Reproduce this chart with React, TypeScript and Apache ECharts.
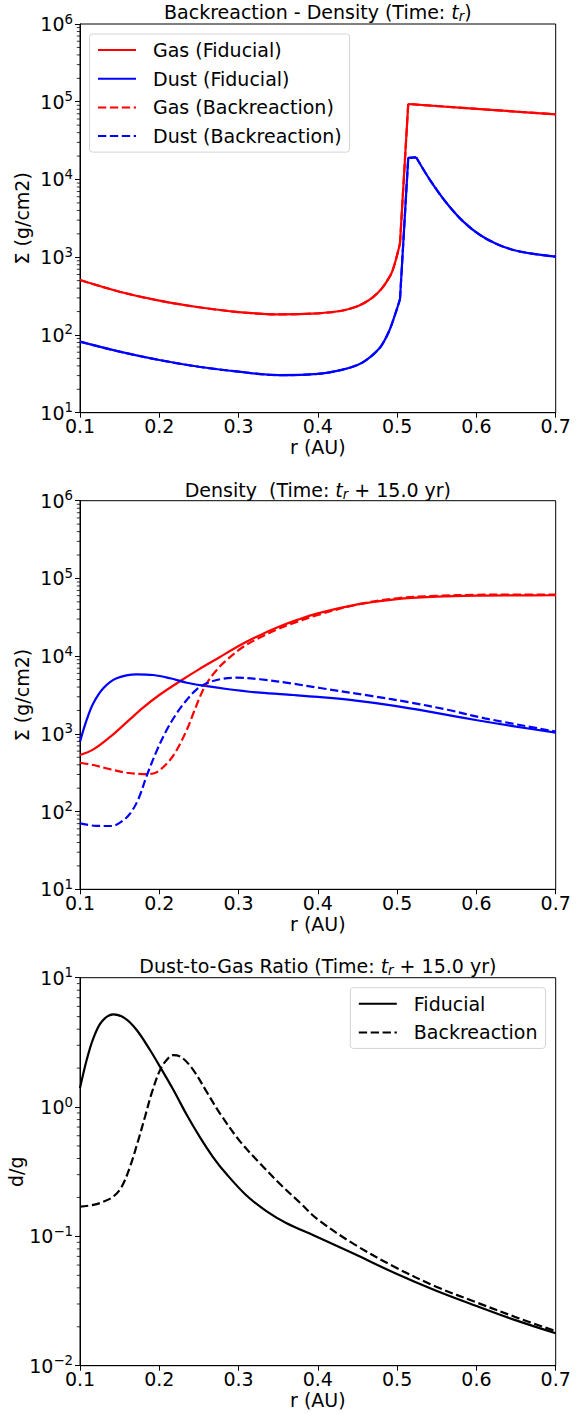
import React, { useEffect, useRef } from 'react';
import * as echarts from 'echarts';

const FONT = 'DejaVu Sans';
const FS = 19;

// ---------- Panel 1: Backreaction - Density (Time: t_r) ----------
const p1GasR_a = [0.1, 0.15, 0.2, 0.25, 0.3, 0.35, 0.4, 0.43, 0.45, 0.46, 0.47, 0.48, 0.487, 0.494, 0.5036];
const p1Gas_a = [509, 360, 276, 227, 197, 184, 190, 205, 234, 263, 309, 389, 490, 661, 1500];
const p1GasR_b = [0.5036, 0.514, 0.6, 0.7];
const p1Gas_b = [1500, 93600, 81000, 68900];

const p1DustR_a = [0.1, 0.15, 0.2, 0.25, 0.3, 0.35, 0.4, 0.43, 0.45, 0.46, 0.47, 0.48, 0.4895, 0.497, 0.5036];
const p1Dust_a = [82, 61, 47.6, 39, 33.7, 30.4, 31.5, 35.5, 41, 46.8, 56.2, 72.4, 110, 178, 288];
const p1DustR_b = [0.5036, 0.514, 0.524];
const p1Dust_b = [288, 19000, 19300];
const p1DustR_c = [0.524, 0.5415, 0.5626, 0.5835, 0.6046, 0.6256, 0.6466, 0.6676, 0.7];
const p1Dust_c = [19300, 9840, 4950, 2870, 1930, 1480, 1240, 1122, 1016];

// ---------- Panel 2: Density (Time: t_r + 15.0 yr) ----------
const p2GasFidR = [0.1, 0.117, 0.138, 0.159, 0.18, 0.2, 0.228, 0.25, 0.275, 0.3, 0.327, 0.35, 0.375, 0.4, 0.45, 0.5, 0.55, 0.6, 0.65, 0.7];
const p2GasFid = [535, 631, 912, 1413, 2188, 3162, 4898, 6761, 9550, 13500, 18620, 23710, 29510, 35480, 46240, 54300, 58200, 60000, 60500, 60700];

const p2GasBackR = [0.1, 0.117, 0.138, 0.159, 0.18, 0.1925, 0.2009, 0.2135, 0.222, 0.2346, 0.243, 0.2514, 0.2598, 0.2724, 0.285, 0.306, 0.327, 0.348, 0.369, 0.4, 0.45, 0.5, 0.55, 0.6, 0.65, 0.7];
const p2GasBack = [425, 397, 350, 316, 304, 309, 343, 461, 620, 1120, 1840, 3010, 4470, 6640, 8920, 13200, 17380, 21880, 26600, 33900, 46240, 55590, 59700, 61500, 61940, 61940];

const p2DustFidR = [0.1, 0.1084, 0.1168, 0.1294, 0.1462, 0.1715, 0.1925, 0.2135, 0.2346, 0.2556, 0.285, 0.327, 0.369, 0.4, 0.4456, 0.497, 0.549, 0.601, 0.65, 0.7];
const p2DustFid = [793, 1510, 2470, 3860, 5190, 5840, 5720, 5190, 4550, 4170, 3780, 3390, 3160, 2985, 2692, 2291, 1862, 1496, 1239, 1035];

const p2DustBackR = [0.1, 0.12, 0.1396, 0.1537, 0.1636, 0.1736, 0.1841, 0.1967, 0.2093, 0.222, 0.2346, 0.2472, 0.2598, 0.2766, 0.2977, 0.327, 0.369, 0.4027, 0.469, 0.516, 0.5634, 0.6106, 0.7];
const p2DustBack = [70.6, 65.5, 65.2, 75.9, 95.5, 144.5, 288, 603, 1120, 1840, 2730, 3740, 4470, 5040, 5280, 5040, 4416, 3890, 3055, 2541, 2042, 1585, 1072];

// ---------- Panel 3: Dust-to-Gas Ratio ----------
const p3FidR = [0.1, 0.1084, 0.1168, 0.1273, 0.142, 0.1568, 0.1715, 0.1883, 0.2009, 0.2177, 0.2346, 0.2514, 0.2682, 0.285, 0.31, 0.3355, 0.36, 0.4, 0.4456, 0.4976, 0.5493, 0.6011, 0.6482, 0.7];
const p3Fid = [1.4, 2.31, 3.4, 4.57, 5.21, 4.85, 3.94, 2.76, 2.05, 1.36, 0.871, 0.582, 0.407, 0.302, 0.207, 0.156, 0.127, 0.0985, 0.0733, 0.0519, 0.038, 0.0288, 0.0226, 0.0178];

const p3BackR = [0.1, 0.1168, 0.1294, 0.142, 0.1526, 0.1631, 0.1736, 0.182, 0.1904, 0.2009, 0.2093, 0.2177, 0.2283, 0.243, 0.2598, 0.2766, 0.3018, 0.327, 0.3523, 0.3775, 0.4, 0.4456, 0.4976, 0.5493, 0.6011, 0.6482, 0.7];
const p3Back = [0.17, 0.175, 0.185, 0.203, 0.242, 0.346, 0.556, 0.842, 1.28, 1.93, 2.31, 2.52, 2.42, 1.93, 1.31, 0.891, 0.543, 0.367, 0.254, 0.182, 0.135, 0.0871, 0.0577, 0.0408, 0.0307, 0.0239, 0.0185];

// axis ticks
const xTickMin = 0.1;
const xTickMax = 0.7;
const minorMantissas = [2, 3, 4, 5, 6, 7, 8, 9];
const densityDecades = [10, 100, 1000, 10000, 100000];
const ratioDecades = [0.01, 0.1, 1];

const legend1Names = ['Gas (Fiducial)', 'Dust (Fiducial)', 'Gas (Backreaction)', 'Dust (Backreaction)'];
const legend3Names = ['Fiducial', 'Backreaction'];

const RED = '#ff0000';
const BLUE = '#0000ff';
const BLACK = '#000000';
const DASH = [8.3, 3.6];

const GRID_LEFT = 80;
const GRID_W = 475.7;
const GRIDS = [
  { top: 24, height: 388.7 },
  { top: 500.7, height: 388.6 },
  { top: 977.7, height: 388 },
];

const pairs = (r: number[], v: number[]) => r.map((x, i) => [x, v[i]]);

function lineSeries(name: string, r: number[], v: number[], color: string, dashed: boolean, gi: number, smooth: boolean) {
  return {
    type: 'line',
    name,
    data: pairs(r, v),
    xAxisIndex: gi,
    yAxisIndex: gi,
    symbol: 'none',
    showSymbol: false,
    smooth: smooth ? 0.35 : false,
    lineStyle: { color, width: 2.2, type: dashed ? DASH : 'solid' },
    itemStyle: { color },
    silent: true,
    clip: true,
  };
}

function minorSeries(gi: number, decades: number[]) {
  const vals: number[] = [];
  decades.forEach((d) => minorMantissas.forEach((m) => vals.push(m * d)));
  return {
    type: 'custom',
    xAxisIndex: gi,
    yAxisIndex: gi,
    silent: true,
    clip: false,
    z: 5,
    data: vals.map((v) => [xTickMin, v]),
    renderItem: (params: any, api: any) => {
      const p = api.coord([api.value(0), api.value(1)]);
      return {
        type: 'line',
        shape: { x1: p[0] - 3.2, y1: p[1], x2: p[0], y2: p[1] },
        style: { stroke: '#000', lineWidth: 0.8 },
      };
    },
  };
}

const tickText = { fontSize: FS, fontFamily: FONT, color: '#000' };

function xAxisCfg(gi: number) {
  return {
    type: 'value',
    gridIndex: gi,
    min: xTickMin,
    max: xTickMax,
    interval: 0.1,
    name: 'r (AU)',
    nameLocation: 'middle',
    nameGap: 25,
    nameMoveOverlap: false,
    nameTextStyle: { ...tickText },
    axisLine: { show: true, onZero: false, lineStyle: { color: '#000', width: 1 } },
    axisTick: { show: true, length: 5, lineStyle: { color: '#000', width: 1 } },
    axisLabel: {
      ...tickText,
      margin: 4,
      showMinLabel: true,
      showMaxLabel: true,
      formatter: (v: number) => v.toFixed(1),
    },
    splitLine: { show: false },
  };
}

function yAxisCfg(gi: number, min: number, max: number, name: string, gap: number) {
  return {
    type: 'log',
    logBase: 10,
    gridIndex: gi,
    min,
    max,
    name,
    nameLocation: 'middle',
    nameGap: gap,
    nameMoveOverlap: false,
    nameTextStyle: { ...tickText },
    axisLine: { show: true, onZero: false, lineStyle: { color: '#000', width: 1 } },
    axisTick: { show: true, length: 5, lineStyle: { color: '#000', width: 1 } },
    axisLabel: {
      margin: 7,
      showMinLabel: true,
      showMaxLabel: true,
      formatter: (v: number) => {
        const e = Math.round(Math.log10(v));
        const es = e < 0 ? '\u2212' + -e : String(e);
        return '{b|10}{s|' + es + '}';
      },
      rich: {
        b: { ...tickText },
        s: { fontSize: 13.3, fontFamily: FONT, color: '#000', padding: [0, 0, 10, 0] },
      },
    },
    splitLine: { show: false },
  };
}

const titleRich = {
  n: { fontSize: FS, fontFamily: FONT, fill: '#000' },
  i: { fontSize: FS, fontFamily: FONT, fontStyle: 'italic', fill: '#000' },
  s: { fontSize: 13.3, fontFamily: FONT, fontStyle: 'italic', fill: '#000', padding: [8, 0, 0, 0] },
};

const TITLES = [
  { y: 12, text: '{n|Backreaction - Density (Time: }{i|t}{s|r}{n|)}' },
  { y: 490, text: '{n|Density  (Time: }{i|t}{s|r}{n| + 15.0 yr)}' },
  { y: 966, text: '{n|Dust-to-Gas Ratio (Time: }{i|t}{s|r}{n| + 15.0 yr)}' },
];

const legendCommon = {
  orient: 'vertical',
  itemGap: 8.7,
  itemWidth: 38,
  itemHeight: 14,
  padding: [6, 8, 6, 7.5],
  backgroundColor: '#ffffff',
  borderColor: '#d4d4d4',
  borderWidth: 1,
  borderRadius: 3,
  selectedMode: false,
  itemStyle: { opacity: 0 },
  textStyle: { fontSize: FS, fontFamily: FONT, color: '#000', lineHeight: 20, padding: [0, 0, 0, 12] },
};

export default function App() {
  const ref = useRef<HTMLDivElement>(null);
  useEffect(() => {
    document.body.style.margin = '0';
    const chart = echarts.init(ref.current!, null, { renderer: 'svg' });
    const option: any = {
      animation: false,
      backgroundColor: '#ffffff',
      textStyle: { fontFamily: FONT },
      grid: GRIDS.map((g) => ({
        left: GRID_LEFT,
        top: g.top,
        width: GRID_W,
        height: g.height,
        show: true,
        borderColor: '#000',
        borderWidth: 1,
        backgroundColor: 'transparent',
        containLabel: false,
        outerBoundsMode: 'none',
      })),
      xAxis: [xAxisCfg(0), xAxisCfg(1), xAxisCfg(2)],
      yAxis: [
        yAxisCfg(0, 10, 1e6, '\u03a3 (g/cm2)', 49),
        yAxisCfg(1, 10, 1e6, '\u03a3 (g/cm2)', 49),
        yAxisCfg(2, 0.01, 10, 'd/g', 55),
      ],
      legend: [
        { ...legendCommon, left: 89.5, top: 34, data: legend1Names },
        { ...legendCommon, right: 39.5, top: 987.7, data: legend3Names },
      ],
      graphic: TITLES.map((t) => ({
        type: 'text',
        x: GRID_LEFT + GRID_W / 2,
        y: t.y,
        silent: true,
        style: {
          text: t.text,
          align: 'center',
          verticalAlign: 'middle',
          fontSize: FS,
          fontFamily: FONT,
          fill: '#000',
          rich: titleRich,
        },
      })),
      series: [
        // panel 1
        lineSeries('Gas (Fiducial)', p1GasR_a, p1Gas_a, RED, false, 0, true),
        lineSeries('Gas (Fiducial)', p1GasR_b, p1Gas_b, RED, false, 0, false),
        lineSeries('Dust (Fiducial)', p1DustR_a, p1Dust_a, BLUE, false, 0, true),
        lineSeries('Dust (Fiducial)', p1DustR_b, p1Dust_b, BLUE, false, 0, false),
        lineSeries('Dust (Fiducial)', p1DustR_c, p1Dust_c, BLUE, false, 0, true),
        lineSeries('Gas (Backreaction)', p1GasR_a, p1Gas_a, RED, true, 0, true),
        lineSeries('Gas (Backreaction)', p1GasR_b, p1Gas_b, RED, true, 0, false),
        lineSeries('Dust (Backreaction)', p1DustR_a, p1Dust_a, BLUE, true, 0, true),
        lineSeries('Dust (Backreaction)', p1DustR_b, p1Dust_b, BLUE, true, 0, false),
        lineSeries('Dust (Backreaction)', p1DustR_c, p1Dust_c, BLUE, true, 0, true),
        // panel 2
        lineSeries('Gas (Fiducial)', p2GasFidR, p2GasFid, RED, false, 1, true),
        lineSeries('Dust (Fiducial)', p2DustFidR, p2DustFid, BLUE, false, 1, true),
        lineSeries('Gas (Backreaction)', p2GasBackR, p2GasBack, RED, true, 1, true),
        lineSeries('Dust (Backreaction)', p2DustBackR, p2DustBack, BLUE, true, 1, true),
        // panel 3
        lineSeries('Fiducial', p3FidR, p3Fid, BLACK, false, 2, true),
        lineSeries('Backreaction', p3BackR, p3Back, BLACK, true, 2, true),
        // minor ticks
        minorSeries(0, densityDecades),
        minorSeries(1, densityDecades),
        minorSeries(2, ratioDecades),
      ],
    };
    chart.setOption(option);
    return () => chart.dispose();
  }, []);
  return <div ref={ref} style={{ position: 'absolute', left: 0, top: 0, width: 585, height: 1414 }} />;
}
